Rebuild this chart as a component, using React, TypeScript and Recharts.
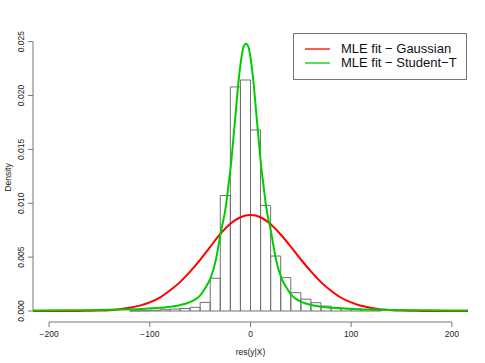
import { ComposedChart, Line, XAxis, YAxis, ReferenceArea, ReferenceLine, Legend } from 'recharts'

// histogram bins (left edge, density), width 10
const binEdges = [-120, -110, -100, -90, -80, -70, -60, -50, -40, -30, -20, -10, 0, 10, 20, 30, 40, 50, 60, 70, 80, 90, 100, 110, 120, 130]
const binDensity = [0.00001, 0.00003, 0.00007, 0.00012, 0.00018, 0.00023, 0.00034, 0.0008, 0.00304, 0.01072, 0.0208, 0.02144, 0.0168, 0.0098, 0.0051, 0.0031, 0.0017, 0.0011, 0.00077, 0.00046, 0.00034, 0.00025, 0.00018, 0.00012, 0.00007]

// fitted gaussian curve
const gaussX = [-216, -200, -190, -180, -170, -160, -150, -140, -130, -120, -110, -100, -90, -80, -70, -60, -50, -40, -30, -20, -10, 0, 10, 20, 30, 40, 50, 60, 70, 80, 90, 100, 110, 120, 130, 140, 150, 160, 170, 180, 190, 200, 216]
const gaussY = [0, 0, 0, 0, 0.00001, 0.00002, 0.00004, 0.00008, 0.00016, 0.0003, 0.0005, 0.0008, 0.00125, 0.0019, 0.00268, 0.00365, 0.00475, 0.00595, 0.00715, 0.0081, 0.0087, 0.00892, 0.0087, 0.00805, 0.0071, 0.00597, 0.00478, 0.00368, 0.00268, 0.00188, 0.00123, 0.0008, 0.00048, 0.00028, 0.00015, 0.00008, 0.00004, 0.00002, 0.00001, 0, 0, 0, 0]

// fitted student-t curve
const studentX = [-216, -184.5, -154.5, -129.5, -109.5, -94.5, -79.5, -69.5, -59.5, -54.5, -49.5, -44.5, -39.5, -34.5, -29.5, -24.5, -22, -19.5, -17, -14.5, -12, -9.5, -7, -4.5, -2, 0.5, 3, 5.5, 8, 10.5, 13, 15.5, 20.5, 25.5, 30.5, 35.5, 40.5, 45.5, 50.5, 60.5, 70.5, 85.5, 100.5, 120.5, 145.5, 175.5, 216]
const studentY = [0.00004, 0.00006, 0.00009, 0.00013, 0.00019, 0.00027, 0.0004, 0.00055, 0.00085, 0.0011, 0.0015, 0.0022, 0.0031, 0.0047, 0.0073, 0.0097, 0.0116, 0.0135, 0.016, 0.0186, 0.0212, 0.0232, 0.0245, 0.0248, 0.0245, 0.0232, 0.0212, 0.0186, 0.016, 0.0135, 0.0116, 0.0097, 0.0073, 0.0047, 0.0031, 0.0022, 0.0015, 0.0011, 0.00085, 0.00055, 0.0004, 0.00027, 0.00019, 0.00013, 0.00009, 0.00006, 0.00004]

const xTicks = [-200, -100, 0, 100, 200]
const yTicks = [0, 0.005, 0.01, 0.015, 0.02, 0.025]

const X_MIN = -216
const X_MAX = 216
const Y_MIN = -0.00102
const Y_MAX = 0.0258

const FONT = '"Liberation Sans", Arial, Helvetica, sans-serif'
const AXIS = '#777'
const TEXT = '#222'
const RED = '#FF0000'
const GREEN = '#00CD00'

const gaussData = gaussX.map((x, i) => ({ x, y: gaussY[i] }))
const studentData = studentX.map((x, i) => ({ x, y: studentY[i] }))

const minus = (v: number) => (v < 0 ? '\u2212' + Math.abs(v) : String(v))

const XTick = (props: any) => {
  const { x, y, payload } = props
  return (
    <text x={x} y={y + 10} textAnchor="middle" fontSize={8.5} fill={TEXT} fontFamily={FONT}>
      {minus(payload.value)}
    </text>
  )
}

const YTick = (props: any) => {
  const { x, y, payload } = props
  const tx = x - 4
  return (
    <text x={tx} y={y} transform={`rotate(-90 ${tx} ${y})`} textAnchor="middle" fontSize={8.5} fill={TEXT} fontFamily={FONT}>
      {payload.value.toFixed(3)}
    </text>
  )
}

const DensityLabel = (props: any) => {
  const vb = props.viewBox || { x: 0, y: 33, height: 289 }
  const cy = vb.y + vb.height / 2
  const cx = 11
  return (
    <text x={cx} y={cy} transform={`rotate(-90 ${cx} ${cy})`} textAnchor="middle" fontSize={8.5} fill={TEXT} fontFamily={FONT}>
      Density
    </text>
  )
}

const renderLegend = () => (
  <div style={{ width: 174, height: 47, border: '1px solid #777', background: '#fff', boxSizing: 'border-box', fontFamily: FONT, fontSize: 13, color: '#111' }}>
    {[
      { name: 'MLE fit \u2212 Gaussian', color: RED },
      { name: 'MLE fit \u2212 Student\u2212T', color: GREEN },
    ].map((item, i) => (
      <div key={i} style={{ position: 'absolute', left: 0, top: 9 + i * 13.5, height: 14, display: 'flex', alignItems: 'center' }}>
        <svg width={48} height={14} style={{ display: 'block' }}>
          <line x1={12} x2={37} y1={7} y2={7} stroke={item.color} strokeWidth={1.3} />
        </svg>
        <span style={{ lineHeight: '14px', whiteSpace: 'nowrap' }}>{item.name}</span>
      </div>
    ))}
  </div>
)

export default function App() {
  return (
    <div style={{ position: 'absolute', left: 0, top: 0, width: 485, height: 363, background: '#fff' }}>
      <ComposedChart width={485} height={363} margin={{ top: 33, right: 17, bottom: 0, left: 0 }}>
        <XAxis
          type="number"
          dataKey="x"
          domain={[X_MIN, X_MAX]}
          ticks={xTicks}
          allowDataOverflow
          axisLine={false}
          tickLine={{ stroke: AXIS }}
          tickSize={5}
          tickMargin={0}
          height={41}
          tick={<XTick />}
          label={{ value: 'res(y|X)', position: 'insideBottom', offset: 8, fontSize: 8.5, fill: TEXT, fontFamily: FONT }}
        />
        <YAxis
          type="number"
          dataKey="y"
          domain={[Y_MIN, Y_MAX]}
          ticks={yTicks}
          allowDataOverflow
          axisLine={false}
          tickLine={{ stroke: AXIS }}
          tickSize={5}
          tickMargin={0}
          width={33}
          tick={<YTick />}
          label={<DensityLabel />}
        />
        <ReferenceLine segment={[{ x: -200, y: Y_MIN }, { x: 200, y: Y_MIN }]} stroke={AXIS} ifOverflow="visible" />
        <ReferenceLine segment={[{ x: X_MIN, y: 0 }, { x: X_MIN, y: 0.025 }]} stroke={AXIS} ifOverflow="visible" />
        {binDensity.map((d, i) => (
          <ReferenceArea
            key={i}
            x1={binEdges[i]}
            x2={binEdges[i + 1]}
            y1={0}
            y2={d}
            fill="#fff"
            fillOpacity={0}
            stroke="#707070"
            strokeOpacity={1}
            strokeWidth={1}
          />
        ))}
        <Line data={gaussData} dataKey="y" type="monotone" stroke={RED} strokeWidth={2} dot={false} isAnimationActive={false} />
        <Line data={studentData} dataKey="y" type="monotone" stroke={GREEN} strokeWidth={2} dot={false} isAnimationActive={false} />
        <Legend
          content={renderLegend}
          layout="horizontal"
          verticalAlign="middle"
          align="center"
          wrapperStyle={{ left: 293, top: 33, width: 175, height: 48 }}
        />
      </ComposedChart>
    </div>
  )
}
